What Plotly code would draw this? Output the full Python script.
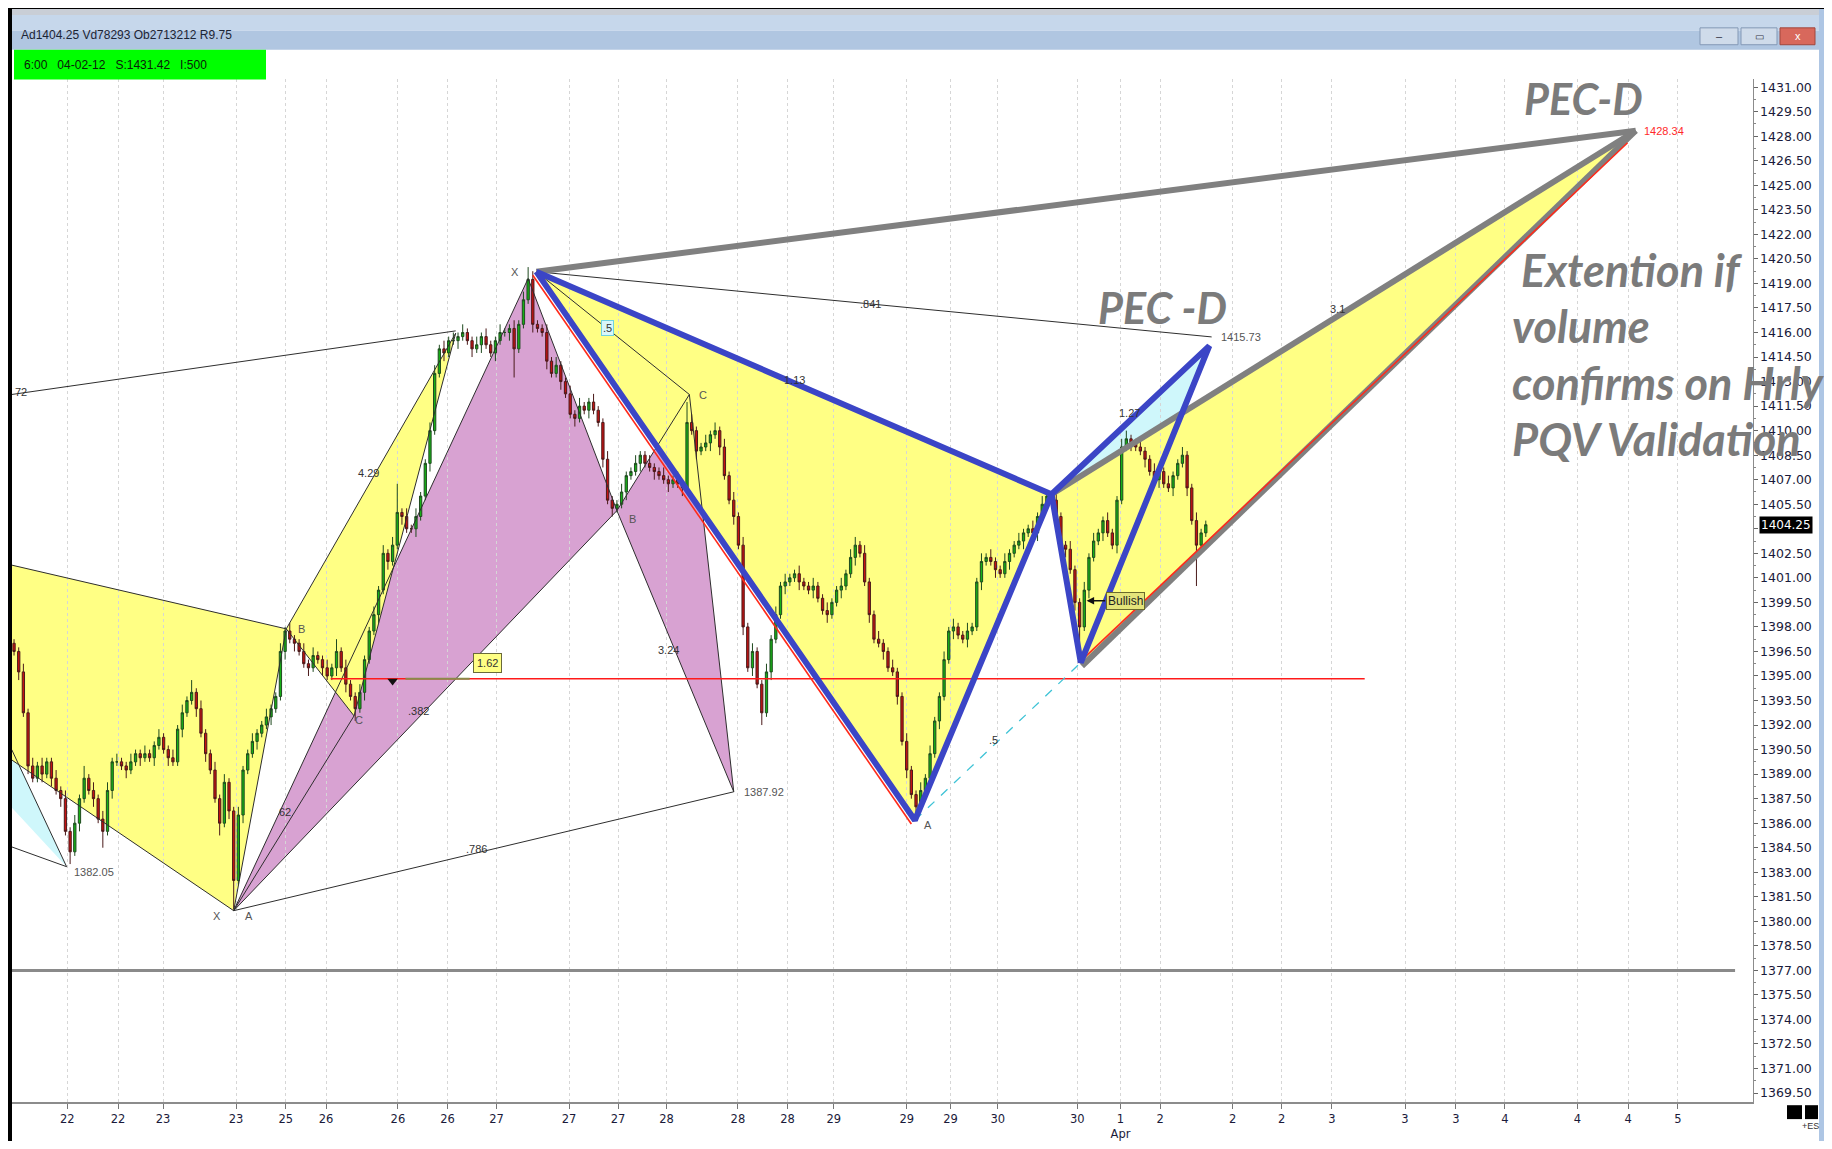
import plotly.graph_objects as go

# ---------------- candle data (bar index = 15-min bars, ES) ----------------
first_open = 1397.0
closes = [
    1396.5, 1395.25, 1392.75, 1389.5, 1388.75, 1389.5, 1389.0, 1389.75, 1388.75, 1388.0,
    1387.5, 1385.5, 1384.25, 1386.0, 1387.5, 1388.75, 1388.0, 1387.5, 1386.25, 1385.5,
    1388.0, 1389.75, 1389.75, 1389.5, 1389.25, 1389.75, 1390.25, 1390.0, 1390.25, 1390.0,
    1390.75, 1391.25, 1390.5, 1390.0, 1389.75, 1391.75, 1392.75, 1393.5, 1394.0, 1393.0,
    1391.5, 1390.25, 1389.25, 1387.5, 1386.0, 1388.5, 1386.75, 1382.5, 1386.5, 1389.25,
    1390.25, 1391.0, 1391.5, 1392.0, 1392.5, 1393.0, 1393.75, 1396.5, 1397.75, 1397.25,
    1397.0, 1396.5, 1395.75, 1395.5, 1396.25, 1396.0, 1395.5, 1395.0, 1395.5, 1396.5,
    1395.5, 1394.5, 1393.75, 1393.0, 1394.0, 1396.0, 1397.75, 1398.75, 1400.25, 1402.5,
    1402.0, 1403.0, 1405.0, 1404.75, 1404.0, 1404.0, 1404.75, 1406.0, 1408.0, 1410.0,
    1413.5, 1415.0, 1414.75, 1415.5, 1415.5, 1415.75, 1416.0, 1415.5, 1415.0, 1415.25,
    1415.75, 1415.25, 1414.75, 1415.5, 1416.0, 1416.0, 1416.25, 1415.0, 1416.5, 1418.0,
    1419.25, 1416.5, 1416.25, 1416.0, 1414.25, 1413.5, 1414.0, 1413.0, 1412.25, 1411.0,
    1410.75, 1411.5, 1411.25, 1411.75, 1411.25, 1410.5, 1408.25, 1405.75, 1405.25, 1405.5,
    1406.25, 1407.25, 1407.5, 1408.0, 1408.5, 1408.0, 1407.75, 1407.5, 1407.25, 1407.0,
    1406.75, 1407.0, 1406.75, 1406.5, 1410.5, 1410.0, 1408.75, 1409.0, 1409.25, 1409.75,
    1410.0, 1409.0, 1407.25, 1405.75, 1404.75, 1403.0, 1398.0, 1395.5, 1396.5, 1394.5,
    1392.75, 1395.25, 1397.25, 1398.75, 1400.5, 1400.75, 1401.0, 1401.25, 1400.75, 1400.5,
    1400.25, 1400.5, 1399.75, 1399.0, 1398.75, 1399.5, 1400.25, 1400.5, 1401.25, 1402.25,
    1403.0, 1402.5, 1400.75, 1398.75, 1397.25, 1397.0, 1396.5, 1395.5, 1395.25, 1393.75,
    1391.0, 1389.25, 1387.75, 1387.0, 1388.0, 1388.75, 1390.25, 1392.25, 1393.75, 1396.0,
    1397.75, 1398.0, 1397.5, 1397.25, 1397.75, 1398.0, 1400.75, 1402.0, 1402.25, 1402.0,
    1401.5, 1401.25, 1402.0, 1402.5, 1403.0, 1403.25, 1403.75, 1404.0, 1403.75, 1404.75,
    1405.5, 1406.0, 1405.75, 1404.75, 1403.0, 1402.75, 1401.5, 1399.5, 1398.0, 1400.25,
    1402.25, 1403.25, 1403.75, 1404.5, 1403.75, 1403.0, 1405.75, 1409.0, 1409.5, 1409.25,
    1409.0, 1408.75, 1408.25, 1407.5, 1407.0, 1407.5, 1406.75, 1406.5, 1407.25, 1408.0,
    1408.5, 1406.5, 1404.5, 1403.0, 1403.75, 1404.25,
]
upper_wick = [
    0.25, 0.25, 0.5, 0.25, 0.5, 0.25, 0.5, 0.25, 0.25, 0.5,
    0.25, 0.5, 0.25, 0.5, 0.25, 0.75, 0.25, 0.5, 0.25, 0.5,
    0.5, 0.25, 0.5, 0.25, 0.25, 0.5, 0.25, 0.25, 0.5, 0.25,
    0.25, 0.5, 0.25, 0.25, 0.5, 0.25, 0.5, 0.25, 0.75, 0.25,
    0.5, 0.25, 0.25, 0.5, 0.25, 0.5, 0.25, 0.25, 0.5, 0.25,
    0.25, 0.5, 0.25, 0.25, 0.5, 0.25, 0.25, 0.5, 0.25, 0.5,
    0.25, 0.25, 0.5, 0.25, 0.5, 0.25, 0.25, 0.5, 0.25, 0.75,
    0.25, 0.5, 0.25, 0.25, 0.5, 0.25, 0.25, 0.5, 0.25, 0.5,
    0.25, 0.5, 1.75, 0.25, 0.5, 0.25, 0.5, 0.25, 0.25, 0.5,
    0.5, 0.25, 0.5, 0.25, 0.5, 0.25, 0.5, 0.25, 0.25, 0.5,
    0.25, 0.5, 0.25, 0.25, 0.5, 0.25, 0.25, 0.5, 0.25, 0.5,
    0.75, 0.5, 0.25, 0.25, 0.5, 0.25, 0.5, 0.25, 0.25, 0.5,
    0.25, 0.5, 0.25, 0.25, 0.5, 0.25, 0.25, 0.5, 0.25, 0.25,
    0.5, 0.25, 0.25, 0.5, 0.25, 0.25, 0.5, 0.25, 0.25, 0.5,
    0.25, 0.25, 0.5, 0.25, 1.25, 0.5, 0.25, 0.25, 0.5, 0.25,
    0.5, 0.25, 0.5, 0.25, 0.5, 0.25, 0.5, 0.25, 0.5, 0.25,
    0.25, 0.5, 0.25, 0.5, 0.25, 0.5, 0.25, 0.25, 0.5, 0.25,
    0.25, 0.5, 0.25, 0.25, 0.5, 0.25, 0.25, 0.5, 0.25, 0.5,
    0.5, 0.25, 0.5, 0.25, 0.25, 0.5, 0.25, 0.25, 0.5, 0.25,
    0.25, 0.5, 0.25, 0.25, 0.5, 0.25, 0.5, 0.25, 0.25, 0.5,
    0.25, 0.5, 0.25, 0.25, 0.5, 0.25, 0.25, 0.5, 0.25, 0.5,
    0.25, 0.25, 0.5, 0.25, 0.25, 0.5, 0.25, 0.25, 0.5, 0.25,
    0.5, 0.25, 0.25, 0.5, 0.25, 0.25, 0.5, 0.25, 0.25, 0.5,
    0.25, 0.5, 0.25, 0.25, 0.5, 0.25, 0.25, 0.5, 0.5, 0.25,
    0.25, 0.5, 0.25, 0.25, 0.5, 0.25, 0.25, 0.5, 0.25, 0.25,
    0.5, 0.25, 0.25, 0.5, 0.25, 0.25,
]
lower_wick = [
    0.25, 0.5, 0.25, 0.5, 0.25, 0.25, 0.5, 0.25, 0.5, 0.25,
    0.5, 0.25, 0.75, 0.25, 0.5, 0.25, 0.25, 0.5, 0.25, 1.0,
    0.25, 0.5, 0.25, 0.25, 0.5, 0.25, 0.25, 0.5, 0.25, 0.25,
    0.5, 0.25, 0.25, 0.5, 0.25, 0.25, 0.5, 0.25, 0.25, 0.5,
    0.25, 0.5, 0.25, 0.25, 0.75, 0.25, 0.5, 1.75, 0.25, 0.5,
    0.25, 0.25, 0.5, 0.25, 0.25, 0.5, 0.25, 0.25, 0.5, 0.25,
    0.5, 0.25, 0.25, 0.5, 0.25, 0.25, 0.5, 0.25, 0.25, 0.5,
    0.25, 0.5, 0.25, 0.75, 0.25, 0.5, 0.25, 0.25, 0.5, 0.25,
    0.5, 0.25, 0.25, 0.5, 0.25, 0.25, 0.5, 0.25, 0.25, 0.5,
    0.25, 0.25, 0.5, 0.25, 0.25, 0.5, 0.25, 0.25, 0.5, 0.25,
    0.5, 0.25, 0.25, 0.5, 0.25, 0.25, 0.5, 1.75, 0.25, 0.25,
    0.25, 0.5, 0.25, 0.25, 0.5, 0.25, 0.25, 0.5, 0.25, 0.25,
    0.5, 0.25, 0.25, 0.5, 0.25, 0.25, 0.5, 0.25, 0.5, 0.25,
    0.25, 0.5, 0.25, 0.25, 0.5, 0.25, 0.25, 0.5, 0.25, 0.25,
    0.5, 0.25, 0.25, 0.5, 0.25, 0.25, 0.5, 0.25, 0.25, 0.5,
    0.25, 0.5, 0.25, 0.25, 0.5, 0.25, 0.5, 0.25, 0.5, 0.25,
    0.75, 0.25, 0.5, 0.25, 0.25, 0.5, 0.25, 0.25, 0.5, 0.25,
    0.25, 0.5, 0.25, 0.25, 0.5, 0.25, 0.25, 0.5, 0.25, 0.25,
    0.5, 0.25, 0.25, 0.5, 0.25, 0.25, 0.5, 0.25, 0.25, 0.5,
    0.25, 0.5, 0.25, 0.75, 0.25, 0.5, 0.25, 0.25, 0.5, 0.25,
    0.25, 0.5, 0.25, 0.25, 0.5, 0.25, 0.25, 0.5, 0.25, 0.25,
    0.5, 0.25, 0.25, 0.5, 0.25, 0.25, 0.5, 0.25, 0.25, 0.5,
    0.25, 0.25, 0.5, 0.25, 0.25, 0.5, 0.25, 0.5, 1.75, 0.25,
    0.5, 0.25, 0.25, 0.5, 0.25, 0.25, 0.5, 0.25, 0.25, 0.5,
    0.25, 0.25, 0.5, 0.25, 0.25, 0.5, 0.25, 0.25, 0.5, 0.25,
    0.25, 0.5, 0.25, 2.5, 0.25, 0.25,
]

# ---------------- axis labels ----------------
x_tick_bars = [11.38, 22.25, 31.88, 47.5, 58.13, 66.75, 82.13, 92.75, 103.25, 118.75,
               129.25, 139.63, 154.88, 165.5, 175.38, 191.0, 200.38, 210.5, 227.5, 236.75,
               245.25, 260.75, 271.25, 282.0, 297.63, 308.5, 319.0, 334.5, 345.38, 356.0]
x_tick_labels = ["22", "22", "23", "23", "25", "26", "26", "26", "27", "27",
                 "27", "28", "28", "28", "29", "29", "29", "30", "30", "1<br>Apr",
                 "2", "2", "2", "3", "3", "3", "4", "4", "4", "5"]
y_tick_values = [1369.5 + 1.5 * k for k in range(42)]
last_price = 1404.25

# ---------------- harmonic pattern points (bar, price) ----------------
blue_X = (111.75, 1419.72)
blue_A = (192.75, 1386.18)
blue_B = (222.0, 1406.11)
blue_C = (228.25, 1395.82)
blue_D = (255.75, 1415.18)
pec_top = (347.0, 1428.34)
xd_end = (256.25, 1415.73)
gray_C = (228.5, 1395.61)
red_cd = [(229.25, 1396.18), (345.25, 1427.6)]
red_xa = [(111.0, 1419.5), (192.0, 1385.95)]

p_X = (47.0, 1380.65)
p_A = (110.0, 1419.30)
p_B = (129.0, 1405.11)
p_C = (144.5, 1412.21)
p_D = (154.0, 1387.92)

left_top = (-0.5, 1401.78)
left_B = (58.25, 1397.88)
left_low = (-0.5, 1389.87)
lb_top = (-0.5, 1390.5)
lb_bot = (-0.5, 1386.96)
lb_apex = (11.25, 1383.34)
lb_line = (-0.5, 1384.55)
small_top = (94.5, 1415.96)
small_C = (72.75, 1392.56)
ul_start = (-0.5, 1412.21)
ul_end = (94.5, 1416.1)

red_level = 1394.83
red_span = (67.75, 289.0)
olive_span = (83.75, 97.5)
gray_level = 1377.0
gray_span = (-0.5, 368.25)

# small labels: text, bar, price
ratio_labels = [
    (".841", 183.25, 1417.75), (".786", 99.0, 1384.4), (".382", 86.5, 1392.85),
    ("4.29", 75.75, 1407.4), ("3.24", 140.0, 1396.6), (".5", 209.5, 1391.1),
    ("1.13", 167.0, 1413.1), ("3.1", 283.25, 1417.45), ("1.27", 238.75, 1411.1),
    ("72", 1.5, 1412.35), ("62", 58.0, 1386.7),
]
point_letters = [
    ("X", 107.25, 1419.7), ("B", 61.5, 1397.9), ("C", 73.75, 1392.3), ("B", 132.25, 1404.6),
    ("C", 147.5, 1412.2), ("A", 195.5, 1385.9), ("X", 43.5, 1380.35), ("A", 50.25, 1380.35),
]
price_labels = [
    ("1415.73", 257.75, 1415.73, "#555555"), ("1387.92", 155.75, 1387.92, "#555555"),
    ("1382.05", 12.5, 1383.0, "#555555"), ("1428.34", 348.25, 1428.3, "#ff2a2a"),
]
big_labels = [
    ("PEC-D", 335.75, 1430.3, "center", 43),
    ("PEC -D", 245.75, 1417.5, "center", 43),
    ("Extention if", 322.0, 1419.8, "left", 45),
    ("volume", 320.0, 1416.4, "left", 45),
    ("confirms on Hrly", 320.0, 1412.9, "left", 45),
    ("PQV Validation", 320.0, 1409.5, "left", 45),
]
fib_box = ("1.62", 101.4, 1395.8)
half_box = (".5", 127.0, 1416.3)
bullish = ("Bullish", 233.75, 1399.6, 229.5)
marker_down = (81.0, 1394.7)

# page geometry: the page body has an 8 px margin, so the figure is inset by 8 px
PAGE_W, PAGE_H = 1832, 1149
OFF = 8
W, H = PAGE_W - 2 * OFF, PAGE_H - 2 * OFF

# ---------------- derived OHLC ----------------
bars = list(range(len(closes)))
opens = [first_open] + closes[:-1]
highs = [max(o, c) + u for o, c, u in zip(opens, closes, upper_wick)]
lows = [min(o, c) - d for o, c, d in zip(opens, closes, lower_wick)]

fig = go.Figure()

def poly_path(pts):
    return "M " + " L ".join(f"{x},{y}" for x, y in pts) + " Z"

YEL = "#ffff84"
PUR = "#d8a2d2"
LBL = "#cff7fb"
fills = [
    ([lb_top, lb_apex, lb_bot], LBL),
    ([left_top, left_B, p_X, left_low], YEL),
    ([p_X, p_A, p_B], PUR),
    ([p_B, p_C, p_D], PUR),
    ([left_B, small_top, small_C], YEL),
    ([blue_X, blue_A, blue_B], YEL),
    ([blue_B, blue_C, blue_D], LBL),
    ([blue_B, pec_top, gray_C], YEL),
]
shapes = []
for pts, col in fills:
    shapes.append(dict(type="path", path=poly_path(pts), xref="x", yref="y",
                       fillcolor=col, line=dict(width=0), layer="below"))

# ---------------- candles ----------------
fig.add_trace(go.Candlestick(
    x=bars, open=opens, high=highs, low=lows, close=closes,
    increasing=dict(line=dict(color="#1f4a1f", width=1), fillcolor="#16b016"),
    decreasing=dict(line=dict(color="#4a1a1a", width=1), fillcolor="#c41212"),
    hoverinfo="skip", showlegend=False,
))

def seg_xy(segs):
    xs, ys = [], []
    for seg in segs:
        for x, y in seg:
            xs.append(x)
            ys.append(y)
        xs.append(None)
        ys.append(None)
    return xs, ys

def add_lines(segs, color, width, dash="solid"):
    xs, ys = seg_xy(segs)
    fig.add_trace(go.Scatter(x=xs, y=ys, mode="lines", line=dict(color=color, width=width, dash=dash),
                             hoverinfo="skip", showlegend=False))

thin = [
    [left_top, left_B], [left_B, p_X], [p_X, left_low],
    [lb_top, lb_apex], [lb_line, lb_apex],
    [ul_start, ul_end],
    [left_B, small_top], [left_B, small_C], [small_C, small_top],
    [p_X, p_A], [p_A, p_B], [p_X, p_B], [p_B, p_C], [p_C, p_D], [p_B, p_D], [p_X, p_D],
    [blue_X, p_C], [blue_X, xd_end], [p_X, small_C],
]
add_lines(thin, "#2e2e2e", 1)
add_lines([[(red_span[0], red_level), (red_span[1], red_level)]], "#ff1a1a", 1.5)
add_lines([[(olive_span[0], red_level), (olive_span[1], red_level)]], "#8a8a4a", 2)
add_lines([[(gray_span[0], gray_level), (gray_span[1], gray_level)]], "#8a8a8a", 3)
add_lines([red_xa], "#ff2a1a", 1.6)
add_lines([[blue_A, blue_C]], "#3ec3d6", 1.3, "dash")
add_lines([[blue_X, pec_top], [blue_B, pec_top], [gray_C, pec_top]], "#808080", 6)
add_lines([red_cd], "#ff2a1a", 1.6)
add_lines([[blue_X, blue_A, blue_B, blue_X], [blue_B, blue_C, blue_D, blue_B]], "#3b45c6", 6)

fig.add_trace(go.Scatter(x=[marker_down[0]], y=[marker_down[1]], mode="markers",
                         marker=dict(symbol="triangle-down", size=9, color="#111111"),
                         hoverinfo="skip", showlegend=False))

# ---------------- annotations ----------------
def px(x):
    return (x - OFF) / W

def py(y):
    return 1 - (y - OFF) / H

ann = []
for t, x, y in ratio_labels:
    ann.append(dict(x=x, y=y, text=t, showarrow=False, xref="x", yref="y",
                    font=dict(family="Liberation Sans", size=11, color="#333333")))
for t, x, y in point_letters:
    ann.append(dict(x=x, y=y, text=t, showarrow=False, xref="x", yref="y",
                    font=dict(family="Liberation Sans", size=11, color="#555555")))
for t, x, y, c in price_labels:
    ann.append(dict(x=x, y=y, text=t, showarrow=False, xref="x", yref="y", xanchor="left",
                    font=dict(family="Liberation Sans", size=11, color=c)))
for t, x, y, anc, fs in big_labels:
    ann.append(dict(x=x, y=y, text=f"<b><i>{t}</i></b>", showarrow=False, xref="x", yref="y",
                    xanchor=anc, yanchor="middle",
                    font=dict(family="Lato, Open Sans", size=fs, color="#7b7b7b")))
ann.append(dict(x=fib_box[1], y=fib_box[2], text=fib_box[0], showarrow=False, xref="x", yref="y",
                bgcolor="#ffff84", bordercolor="#6a6a3a", borderwidth=1, borderpad=3,
                font=dict(family="Liberation Sans", size=11, color="#333")))
ann.append(dict(x=half_box[1], y=half_box[2], text=half_box[0], showarrow=False, xref="x", yref="y",
                bgcolor="#d8f6fa", bordercolor="#6fd3e0", borderwidth=1, borderpad=1,
                font=dict(family="Liberation Sans", size=11, color="#333")))
ann.append(dict(x=bullish[1], y=bullish[2], text=bullish[0], showarrow=False, xref="x", yref="y",
                xanchor="left", bgcolor="#e4e47a", bordercolor="#6a6a2a", borderwidth=1, borderpad=1,
                font=dict(family="Liberation Sans", size=12, color="#222")))
ann.append(dict(x=bullish[3], y=bullish[2], ax=20, ay=0, text="", showarrow=True, arrowhead=2,
                arrowsize=1, arrowwidth=1.5, arrowcolor="#111", xref="x", yref="y"))
ann.append(dict(x=px(1759), y=last_price, xref="paper", yref="y", xanchor="left", yanchor="middle",
                text=f"{last_price:.2f}", showarrow=False, bgcolor="#000000",
                font=dict(family="DejaVu Sans", size=12, color="white"), borderpad=1))

# ---------------- window chrome ----------------
def pr(x0, y0, x1, y1, color, line_color=None):
    return dict(type="rect", xref="paper", yref="paper", x0=px(x0), x1=px(x1), y0=py(y1), y1=py(y0),
                fillcolor=color, line=dict(width=1 if line_color else 0, color=line_color or color),
                layer="above")

shapes += [
    pr(12, 9, PAGE_W, 15, "#c9ced6"),
    pr(12, 15, PAGE_W, 31, "#c6d7eb"),
    pr(12, 31, PAGE_W, 50, "#b0c6e1"),
    pr(OFF, OFF, PAGE_W, 9, "#000000"),
    pr(OFF, OFF, 12, PAGE_H, "#000000"),
    pr(1819, 9, PAGE_W, PAGE_H, "#aec6e4"),
    pr(14, 50, 266, 80, "#00ff00"),
    pr(1700, 28, 1738, 45, "#cfdbea", "#8398b5"),
    pr(1741, 28, 1777, 45, "#cfdbea", "#8398b5"),
    pr(1780, 28, 1815, 45, "#d8685c", "#a0463c"),
    pr(1787, 1113, 1802, 1127, "#000000"),
    pr(1805, 1113, 1818, 1127, "#000000"),
]
chrome_text = [
    (19, 35, "Ad1404.25 Vd78293 Ob2713212 R9.75", "left", 12, "#1c2434"),
    (22, 65, "6:00&nbsp;&nbsp;&nbsp;04-02-12&nbsp;&nbsp;&nbsp;S:1431.42&nbsp;&nbsp;&nbsp;I:500", "left", 12, "#0a200a"),
    (1719, 36.5, "–", "center", 11, "#334"),
    (1759, 36.5, "▭", "center", 10, "#334"),
    (1797.5, 36.5, "x", "center", 11, "white"),
    (1810, 1134, "+ES", "center", 9, "#333"),
]
for x, y, t, xa, fs, col in chrome_text:
    ann.append(dict(x=px(x), y=py(y), xref="paper", yref="paper", xanchor=xa, yanchor="middle",
                    showarrow=False, text=t, font=dict(family="Liberation Sans", size=fs, color=col)))

# ---------------- layout ----------------
x_dom = [px(11.7), px(1752.6)]
y_dom = [py(1110.0), py(79.5)]
tick_font_y = dict(family="DejaVu Sans", size=12.5, color="#1a1a3a")
tick_font_x = dict(family="DejaVu Sans", size=11.5, color="#1a1a3a")

fig.update_layout(
    width=W, height=H, margin=dict(l=0, r=0, t=0, b=0),
    paper_bgcolor="white", plot_bgcolor="white", showlegend=False,
    shapes=shapes, annotations=ann,
    xaxis=dict(domain=x_dom, range=[-0.5, 372.0], tickmode="array", tickvals=x_tick_bars,
               ticktext=x_tick_labels, showgrid=True, gridcolor="#d6d6d6", griddash="dot", gridwidth=1,
               showline=True, linecolor="#8c8c8c", linewidth=2, ticks="outside", ticklen=5,
               tickcolor="#777", tickfont=tick_font_x, zeroline=False,
               rangeslider=dict(visible=False), fixedrange=True),
    yaxis=dict(domain=y_dom, range=[1368.94, 1431.5], side="right", tickmode="array",
               tickvals=y_tick_values, ticktext=[f"{v:.2f}" for v in y_tick_values],
               showgrid=False, showline=True, linecolor="#8c8c8c", linewidth=1, ticks="outside",
               ticklen=4, tickcolor="#666", tickfont=tick_font_y, zeroline=False, fixedrange=True,
               minor=dict(tickmode="array", tickvals=[v + 0.75 for v in y_tick_values[:-1]],
                          ticks="outside", ticklen=2, tickcolor="#888", showgrid=False)),
)

fig.write_html("out.html")
